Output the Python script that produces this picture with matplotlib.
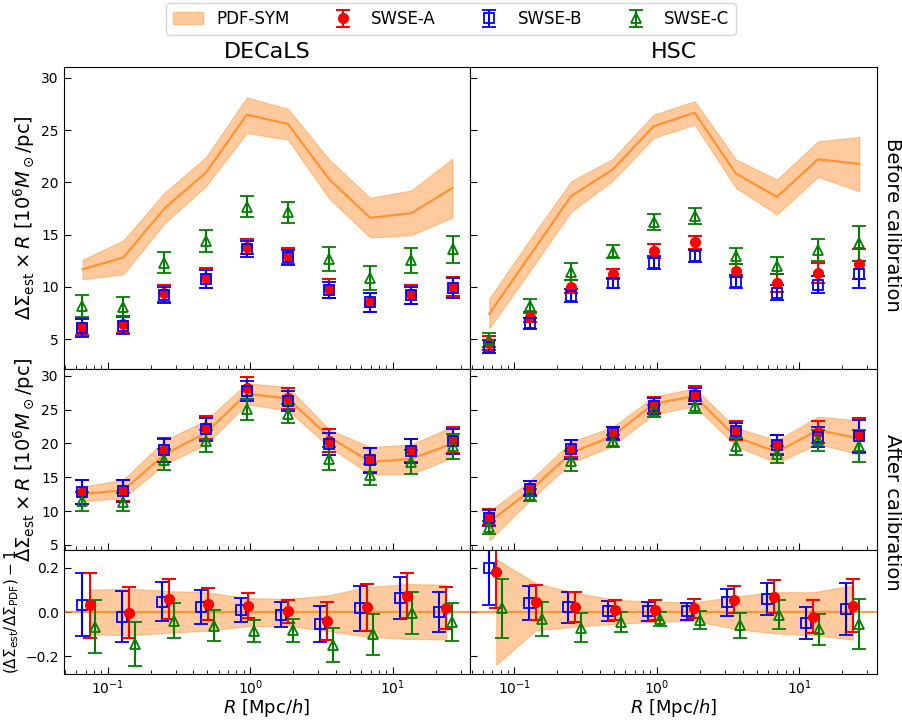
import matplotlib
matplotlib.use("Agg")
import matplotlib.pyplot as plt
from matplotlib.patches import Patch
import numpy as np

# ---------------- data ----------------
R = [0.0666, 0.129, 0.250, 0.489, 0.948, 1.84, 3.58, 6.95, 13.5, 26.3]
R_ratio_A = [0.0746, 0.1416, 0.268, 0.509, 0.966, 1.83, 3.48, 6.6, 12.5, 23.7]
R_ratio_B = [0.0666, 0.1264, 0.2396, 0.4546, 0.8626, 1.636, 3.105, 5.89, 11.17, 21.2]
R_ratio_C = [0.0817, 0.155, 0.294, 0.558, 1.058, 2.007, 3.81, 7.23, 13.7, 26.0]

# DECaLS, before calibration
dec_pdf_b = [11.68, 12.82, 17.5, 20.94, 26.47, 25.58, 20.3, 16.61, 17.05, 19.47]
dec_pdf_b_hi = [12.6, 14.45, 19.0, 22.4, 28.12, 27.04, 22.18, 18.52, 19.22, 22.27]
dec_pdf_b_lo = [10.73, 11.2, 16.07, 19.63, 24.72, 24.08, 18.45, 14.73, 14.95, 16.64]
dec_A_b = [6.21, 6.43, 9.39, 10.88, 13.84, 12.98, 9.83, 8.53, 9.29, 10.02]
dec_A_b_err = [0.8, 0.8, 0.83, 0.97, 0.73, 0.75, 0.9, 0.92, 0.92, 0.92]
dec_B_b = [6.11, 6.3, 9.26, 10.76, 13.62, 12.82, 9.71, 8.53, 9.2, 9.9]
dec_B_b_err = [0.87, 0.83, 0.75, 0.87, 0.76, 0.72, 0.8, 0.9, 0.81, 0.92]
dec_C_b = [8.18, 8.12, 12.32, 14.38, 17.66, 17.12, 12.67, 10.88, 12.54, 13.62]
dec_C_b_err = [1.05, 0.95, 1.0, 1.08, 1.0, 0.97, 1.18, 1.15, 1.19, 1.29]

# HSC, before calibration
hsc_pdf_b = [7.42, 13.05, 18.68, 21.22, 25.36, 26.66, 20.84, 18.61, 22.2, 21.76]
hsc_pdf_b_hi = [8.88, 14.57, 20.1, 22.24, 26.47, 27.77, 22.2, 20.27, 23.92, 24.34]
hsc_pdf_b_lo = [6.05, 11.55, 17.18, 20.14, 24.24, 25.52, 19.47, 16.93, 20.52, 19.15]
hsc_A_b = [4.62, 7.1, 10.03, 11.23, 13.4, 14.29, 11.55, 10.34, 11.36, 12.19]
hsc_A_b_err = [0.68, 0.46, 0.64, 0.51, 0.67, 0.62, 0.64, 0.86, 0.94, 1.4]
hsc_B_b = [4.3, 6.53, 9.17, 10.41, 12.32, 12.95, 10.5, 9.45, 10.22, 11.2]
hsc_B_b_err = [0.59, 0.51, 0.62, 0.48, 0.59, 0.6, 0.64, 0.73, 0.83, 1.27]
hsc_C_b = [4.93, 8.18, 11.46, 13.37, 16.2, 16.8, 12.95, 12.03, 13.52, 14.16]
hsc_C_b_err = [0.67, 0.64, 0.83, 0.64, 0.73, 0.75, 0.75, 0.84, 1.05, 1.69]

# DECaLS, after calibration
dec_pdf_a = [12.52, 13.07, 18.37, 21.58, 27.38, 26.63, 20.99, 17.28, 17.72, 20.0]
dec_pdf_a_hi = [13.61, 14.65, 20.45, 23.42, 28.91, 28.37, 22.1, 19.46, 19.85, 22.52]
dec_pdf_a_lo = [11.44, 11.93, 16.88, 19.85, 25.79, 24.9, 19.5, 15.4, 15.5, 17.87]
dec_A_a = [12.77, 13.07, 19.0, 22.33, 28.17, 26.68, 20.4, 17.52, 19.0, 20.45]
dec_A_a_err = [1.78, 1.56, 1.78, 1.73, 1.6, 1.56, 1.73, 1.78, 1.73, 1.93]
dec_B_a = [12.77, 13.02, 19.0, 22.08, 27.77, 26.29, 19.9, 17.52, 18.86, 20.3]
dec_B_a_err = [1.78, 1.61, 1.73, 1.68, 1.49, 1.46, 1.66, 1.83, 1.81, 1.81]
dec_C_a = [11.44, 11.29, 17.62, 20.35, 25.05, 24.41, 17.77, 15.4, 17.28, 19.6]
dec_C_a_err = [1.44, 1.36, 1.56, 1.58, 1.56, 1.44, 1.68, 1.6, 1.73, 1.86]

# HSC, after calibration
hsc_pdf_a = [8.37, 13.02, 18.61, 21.09, 25.89, 27.03, 20.94, 18.76, 21.98, 20.74]
hsc_pdf_a_hi = [9.95, 14.5, 20.25, 22.43, 26.93, 28.17, 22.33, 20.45, 23.96, 23.42]
hsc_pdf_a_lo = [5.64, 11.58, 17.13, 19.6, 24.31, 25.54, 19.6, 17.13, 19.95, 18.37]
hsc_A_a = [9.06, 13.42, 19.21, 21.58, 25.69, 27.38, 21.93, 19.85, 21.68, 21.24]
hsc_A_a_err = [1.2, 1.04, 1.24, 0.87, 1.24, 1.09, 1.44, 1.44, 1.63, 2.6]
hsc_B_a = [8.96, 13.32, 19.11, 21.49, 25.54, 27.03, 21.83, 19.75, 20.99, 21.09]
hsc_B_a_err = [1.19, 1.11, 1.34, 0.99, 1.19, 1.14, 1.24, 1.44, 1.51, 2.35]
hsc_C_a = [7.57, 12.43, 17.38, 20.35, 24.8, 25.54, 19.6, 18.37, 20.45, 19.6]
hsc_C_a_err = [0.99, 0.89, 1.49, 0.87, 0.87, 1.09, 1.24, 1.24, 1.53, 2.4]

# fractional differences (after calibration)
dec_A_r = [0.032, -0.002, 0.06, 0.037, 0.029, 0.003, -0.04, 0.021, 0.075, 0.017]
dec_A_r_err = [0.147, 0.115, 0.09, 0.073, 0.056, 0.053, 0.084, 0.105, 0.1, 0.095]
dec_B_r = [0.034, -0.020, 0.047, 0.024, 0.009, -0.011, -0.053, 0.017, 0.064, 0.002]
dec_B_r_err = [0.144, 0.115, 0.089, 0.076, 0.055, 0.056, 0.081, 0.103, 0.097, 0.09]
dec_C_r = [-0.066, -0.144, -0.04, -0.061, -0.085, -0.082, -0.15, -0.101, -0.005, -0.044]
dec_C_r_err = [0.12, 0.1, 0.079, 0.071, 0.051, 0.052, 0.076, 0.092, 0.095, 0.087]
dec_pdf_r_hi = [0.101, 0.107, 0.095, 0.089, 0.063, 0.06, 0.075, 0.113, 0.127, 0.124]
dec_pdf_r_lo = [-0.101, -0.105, -0.093, -0.084, -0.063, -0.063, -0.085, -0.111, -0.121, -0.124]

hsc_A_r = [0.182, 0.044, 0.024, 0.011, 0.011, 0.017, 0.056, 0.07, -0.02, 0.029]
hsc_A_r_err = [0.165, 0.079, 0.069, 0.045, 0.045, 0.043, 0.061, 0.076, 0.075, 0.119]
hsc_B_r = [0.2, 0.04, 0.021, 0.006, 0.003, 0.003, 0.044, 0.06, -0.05, 0.014]
hsc_B_r_err = [0.166, 0.076, 0.069, 0.044, 0.044, 0.04, 0.062, 0.073, 0.073, 0.118]
hsc_C_r = [0.017, -0.032, -0.07, -0.044, -0.032, -0.037, -0.06, -0.012, -0.078, -0.055]
hsc_C_r_err = [0.135, 0.076, 0.065, 0.044, 0.033, 0.041, 0.055, 0.066, 0.07, 0.114]
hsc_pdf_r_hi = [0.24, 0.131, 0.087, 0.056, 0.047, 0.044, 0.07, 0.09, 0.09, 0.121]
hsc_pdf_r_lo = [-0.238, -0.082, -0.066, -0.053, -0.044, -0.04, -0.075, -0.096, -0.105, -0.124]

titles = ["DECaLS", "HSC"]
row_labels = ["Before calibration", "After calibration"]
legend_labels = ["PDF-SYM", "SWSE-A", "SWSE-B", "SWSE-C"]

# ---------------- style ----------------
ORANGE = "#ff7f0e"
FILL_ALPHA = 0.4
LINE_ALPHA = 0.75
ekw = dict(capsize=5, elinewidth=1.5, capthick=1.5, markersize=7, linestyle="none")
styA = dict(color="red", marker="o", **ekw)
styB = dict(color="blue", marker="s", markerfacecolor="none", markeredgewidth=1.3, **ekw)
styC = dict(color="green", marker="^", markerfacecolor="none", markeredgewidth=1.3, **ekw)

fig = plt.figure(figsize=(9.02, 7.2), dpi=100)
gs = fig.add_gridspec(3, 2, height_ratios=[301.7, 182, 124],
                      left=63.5/902, right=877/902, top=1-67.3/720, bottom=1-674/720,
                      wspace=0, hspace=0)
axes = [[fig.add_subplot(gs[r, c]) for c in range(2)] for r in range(3)]

ylab = r"$\Delta\Sigma_{\rm est}\times R\ [10^6M_\odot/{\rm pc}]$"

panels = {
    (0, 0): (dec_pdf_b, dec_pdf_b_lo, dec_pdf_b_hi, dec_A_b, dec_A_b_err, dec_B_b, dec_B_b_err, dec_C_b, dec_C_b_err),
    (0, 1): (hsc_pdf_b, hsc_pdf_b_lo, hsc_pdf_b_hi, hsc_A_b, hsc_A_b_err, hsc_B_b, hsc_B_b_err, hsc_C_b, hsc_C_b_err),
    (1, 0): (dec_pdf_a, dec_pdf_a_lo, dec_pdf_a_hi, dec_A_a, dec_A_a_err, dec_B_a, dec_B_a_err, dec_C_a, dec_C_a_err),
    (1, 1): (hsc_pdf_a, hsc_pdf_a_lo, hsc_pdf_a_hi, hsc_A_a, hsc_A_a_err, hsc_B_a, hsc_B_a_err, hsc_C_a, hsc_C_a_err),
}
handles = None
for (r, c), (pdf, lo, hi, A, Ae, B, Be, C, Ce) in panels.items():
    ax = axes[r][c]
    ax.fill_between(R, lo, hi, color=ORANGE, alpha=FILL_ALPHA, linewidth=0.8)
    ax.plot(R, pdf, color=ORANGE, alpha=LINE_ALPHA, lw=1.6)
    hA = ax.errorbar(R, A, yerr=Ae, **styA)
    hB = ax.errorbar(R, B, yerr=Be, **styB)
    hC = ax.errorbar(R, C, yerr=Ce, **styC)
    if handles is None:
        handles = [hA, hB, hC]

ratio = {
    0: (dec_pdf_r_lo, dec_pdf_r_hi, dec_A_r, dec_A_r_err, dec_B_r, dec_B_r_err, dec_C_r, dec_C_r_err),
    1: (hsc_pdf_r_lo, hsc_pdf_r_hi, hsc_A_r, hsc_A_r_err, hsc_B_r, hsc_B_r_err, hsc_C_r, hsc_C_r_err),
}
for c, (lo, hi, A, Ae, B, Be, C, Ce) in ratio.items():
    ax = axes[2][c]
    ax.fill_between(R_ratio_A, lo, hi, color=ORANGE, alpha=FILL_ALPHA, linewidth=0.8)
    ax.axhline(0, color=ORANGE, alpha=LINE_ALPHA, lw=1.6)
    ax.errorbar(R_ratio_B, B, yerr=Be, **styB)
    ax.errorbar(R_ratio_A, A, yerr=Ae, **styA)
    ax.errorbar(R_ratio_C, C, yerr=Ce, **styC)

ylims = [(2.2, 31.0), (4.2, 31.1), (-0.28, 0.28)]
for r in range(3):
    for c in range(2):
        ax = axes[r][c]
        ax.set_xscale("log")
        ax.set_xlim(0.049, 35)
        ax.set_ylim(*ylims[r])
        ax.tick_params(which="both", direction="in", labelsize=10)
        ax.tick_params(which="major", length=5)
        ax.tick_params(which="minor", length=3)
        if r < 2:
            ax.set_yticks([5, 10, 15, 20, 25, 30])
            ax.tick_params(axis="x", labelbottom=False)
        else:
            ax.set_yticks([-0.2, 0.0, 0.2])
            ax.set_xlabel(r"$R$ [Mpc/$h$]", fontsize=13, labelpad=0)
        if c == 1:
            ax.tick_params(axis="y", labelleft=False)
    axes[r][0].set_ylabel(ylab if r < 2 else r"$(\Delta\Sigma_{\rm est}/\Delta\Sigma_{\rm PDF})-1$",
                          fontsize=14 if r < 2 else 11, labelpad=3)

axes[0][0].set_title(titles[0], fontsize=16, pad=7)
axes[0][1].set_title(titles[1], fontsize=16, pad=7)

fig.text(0.99, 1-225/720, row_labels[0], rotation=270, fontsize=14, ha="center", va="center")
fig.text(0.99, 1-512/720, row_labels[1], rotation=270, fontsize=14, ha="center", va="center")

pdf_patch = Patch(facecolor=ORANGE, alpha=FILL_ALPHA, edgecolor=ORANGE)
fig.legend([pdf_patch] + handles, legend_labels,
           loc="upper center", bbox_to_anchor=(0.5, 1.0), ncol=4, fontsize=12,
           handlelength=1.8, handletextpad=0.8, columnspacing=2.3, borderaxespad=0.2)

fig.savefig("out.png", dpi=100)
